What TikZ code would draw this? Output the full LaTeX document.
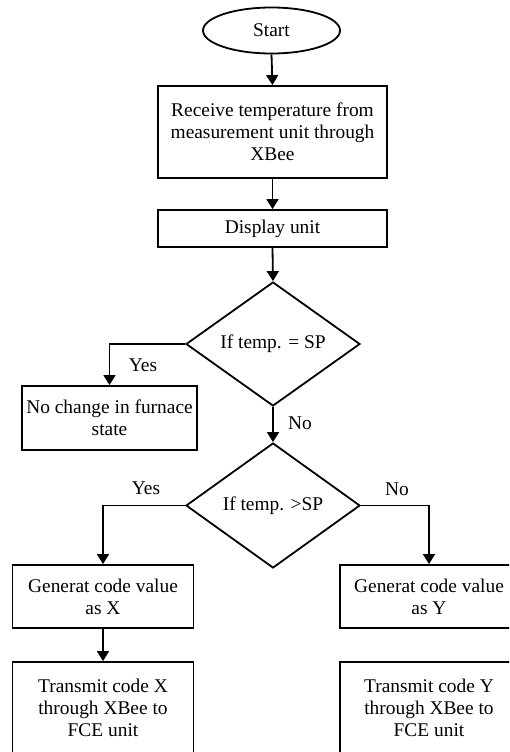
\documentclass[tikz,border=0pt]{standalone}
\usepackage{fontspec}
\setmainfont{Liberation Serif}
\usetikzlibrary{shapes.geometric,arrows.meta}
\begin{document}
\begin{tikzpicture}[x=1pt,y=-1pt,
  every node/.style={font=\fontsize{19.4}{22}\selectfont},
  box/.style={draw,line width=1.8pt,rectangle,inner sep=0pt,align=center},
  dia/.style={draw,line width=1.8pt,diamond,inner sep=0pt,align=center,minimum width=174pt,minimum height=124pt},
  term/.style={draw,line width=1.8pt,ellipse,inner sep=0pt,minimum width=137pt,minimum height=46pt},
  arr/.style={line width=1.8pt,-{Triangle[width=12pt,length=10pt]}},
  lbl/.style={inner sep=0pt}]
\useasboundingbox (0,0) rectangle (509,752);
\clip (0,0) rectangle (509,752);
\node[term] (start) at (271.5,30.5) {Start};
\node[box,minimum width=229pt,minimum height=92pt] (recv) at (272.5,132) {Receive temperature from\\measurement unit through\\XBee};
\node[box,minimum width=229pt,minimum height=37pt] (disp) at (272.5,228.5) {Display unit};
\node[dia] (d1) at (273,344) {If temp. = SP};
\node[box,minimum width=175pt,minimum height=64pt] (nc) at (109.5,418) {No change in furnace\\state};
\node[dia,minimum height=125pt] (d2) at (273,505.5) {If temp. >SP};
\node[box,minimum width=181pt,minimum height=63pt] (gx) at (103,596.5) {Generat code value\\as X};
\node[box,minimum width=181pt,minimum height=92pt] (tx) at (103,708) {Transmit code X\\through XBee to\\FCE unit};
\node[box,minimum width=178pt,minimum height=63pt] (gy) at (429,596.5) {Generat code value\\as Y};
\node[box,minimum width=178pt,minimum height=92pt] (ty) at (429,708) {Transmit code Y\\through XBee to\\FCE unit};
\node[lbl] (yes1) at (143,365) {Yes};
\node[lbl] (no1) at (300,423) {No};
\node[lbl] (yes2) at (146,488) {Yes};
\node[lbl] (no2) at (397,489) {No};
\draw[arr] (start.south) -- (recv.north);
\draw[arr] (recv.south) -- (disp.north);
\draw[arr] (disp.south) -- (d1.north);
\draw[arr] (d1.west) -| (nc.north);
\draw[arr] (d1.south) -- (d2.north);
\draw[arr] (d2.west) -| (gx.north);
\draw[arr] (d2.east) -| (gy.north);
\draw[arr] (gx.south) -- (tx.north);
\end{tikzpicture}
\end{document}
